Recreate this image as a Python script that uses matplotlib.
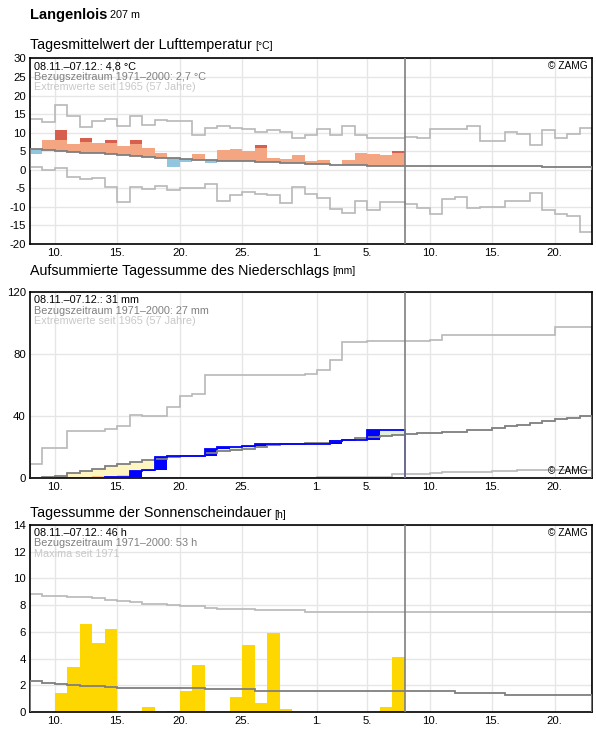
import numpy as np
import matplotlib
matplotlib.use('Agg')
import matplotlib.pyplot as plt

plt.rcParams['font.family'] = ['Liberation Sans', 'DejaVu Sans']
plt.rcParams['axes.unicode_minus'] = False

W, H = 596, 729

# day numbers counted from 1 Nov (1 Dec = 31)
obs_days = np.arange(8, 38)          # 08.11. - 07.12.
obs_edges = np.arange(8, 39)
all_edges = np.arange(8, 54)         # chart runs to 22.12.

xtick_pos = [10, 15, 20, 25, 31, 35, 40, 45, 50]
xtick_lab = ['10.', '15.', '20.', '25.', '1.', '5.', '10.', '15.', '20.']

# --- temperature [°C] ---
temp_obs = [4.2, 8.0, 10.7, 6.9, 8.5, 7.1, 8.0, 6.3, 8.0, 5.85,
            4.5, 0.8, 2.2, 4.15, 1.9, 5.3, 5.6, 5.0, 6.6, 3.3,
            2.9, 3.9, 2.35, 2.6, 1.2, 2.6, 4.5, 4.2, 4.0, 5.0]
temp_hi_lim = [8.5, 8.3, 8.0, 7.8, 7.6, 7.3, 7.1, 7.0, 6.9, 6.8,
               6.7, 6.6, 6.5, 6.4, 6.3, 6.2, 6.1, 6.0, 5.9, 5.8,
               5.7, 5.6, 5.5, 5.3, 5.2, 5.1, 5.0, 4.9, 4.8, 4.5]
temp_norm = [5.6, 5.3, 5.1, 4.8, 4.5, 4.5, 4.15, 3.9, 3.7, 3.4,
             3.3, 3.1, 2.9, 2.7, 2.6, 2.4, 2.35, 2.3, 2.1, 2.0,
             1.8, 1.7, 1.6, 1.5, 1.4, 1.4, 1.3, 1.0, 1.0, 1.0,
             0.95, 0.95, 0.95, 0.95, 0.95, 0.95, 0.95, 0.95, 0.95, 0.95,
             0.95, 0.65, 0.65, 0.65, 0.65]
temp_max = [13.8, 12.8, 17.6, 14.6, 11.6, 13.1, 13.6, 11.8, 14.5, 12.2,
            13.3, 13.1, 13.2, 9.5, 11.4, 11.9, 11.4, 10.9, 10.1, 10.6,
            10.3, 8.7, 9.5, 11.1, 9.4, 11.7, 9.5, 8.5, 8.5, 8.7,
            8.9, 8.5, 10.9, 10.9, 10.9, 11.7, 7.7, 7.7, 10.2, 9.6,
            6.8, 10.6, 8.7, 9.6, 11.4]
temp_min = [0.7, -0.1, 0.6, -2.0, -2.6, -2.2, -4.7, -8.6, -4.6, -5.3,
            -4.5, -5.5, -5.0, -4.9, -3.9, -8.4, -6.75, -5.9, -6.5, -6.75,
            -9.0, -4.7, -6.4, -7.7, -10.7, -11.7, -8.3, -10.9, -8.8, -8.8,
            -9.3, -10.4, -12.0, -8.0, -7.4, -10.4, -10.1, -10.1, -8.4, -8.4,
            -6.2, -10.9, -11.8, -12.5, -16.9]

# --- precipitation [mm] ---
prec_daily = [0.1, 0.2, 0.0, 0.1, 0.1, 0.0, 0.1, 0.2, 4.0, 0.4,
              8.7, 0.3, 0.0, 0.2, 4.5, 1.1, 0.0, 0.8, 1.3, 0.0,
              0.0, 0.0, 0.0, 0.0, 1.8, 0.8, 0.0, 6.6, 0.0, 0.0]
prec_dry = [0.0, 0.0, 0.0, 0.0, 0.0, 1.3, 1.3, 2.1, 2.6, 3.0,
            3.3, 3.6, 3.9, 4.2, 4.5, 4.9, 5.2, 5.5, 5.8, 6.1,
            6.4, 6.7, 7.0, 7.3, 7.6, 7.9, 8.2, 8.5, 8.8, 9.1]
prec_norm = [0.4, 0.8, 1.7, 3.2, 4.5, 5.8, 7.9, 9.0, 10.3, 11.6,
             12.5, 13.7, 14.2, 14.6, 16.1, 17.6, 18.3, 18.9, 20.2, 21.4,
             21.8, 22.0, 23.0, 23.0, 24.3, 24.9, 25.8, 26.5, 27.3, 27.9,
             28.6, 29.2, 29.5, 30.1, 30.1, 31.2, 31.2, 32.7, 33.8, 34.4,
             35.5, 36.6, 38.1, 39.1, 40.2]
prec_max = [9.0, 19.4, 19.4, 30.7, 30.7, 30.7, 31.5, 33.7, 40.6, 40.4,
            40.4, 46.2, 53.3, 54.6, 66.5, 66.5, 66.5, 66.5, 66.5, 66.5,
            66.5, 66.5, 67.1, 69.9, 76.1, 88.0, 88.0, 88.4, 88.4, 88.6,
            88.6, 88.6, 89.0, 92.5, 92.5, 92.5, 92.5, 92.5, 92.5, 92.5,
            92.5, 92.5, 97.4, 97.4, 97.4]
prec_min = [0.0, 0.0, 0.0, 0.0, 0.0, 0.0, 0.0, 0.0, 0.0, 0.0,
            0.0, 0.0, 0.0, 0.0, 0.0, 0.0, 0.0, 0.0, 0.0, 0.0,
            0.0, 0.0, 0.0, 0.6, 0.6, 0.6, 0.6, 0.6, 0.6, 3.0,
            3.0, 3.0, 3.4, 3.8, 3.8, 4.2, 4.2, 4.7, 4.7, 5.1,
            5.1, 5.1, 5.1, 5.1, 5.1]

# --- sunshine [h] ---
sun_obs = [0, 0, 1.4, 3.35, 6.6, 5.2, 6.2, 0, 0, 0.35,
           0, 0.1, 1.6, 3.5, 0, 0, 1.1, 5.0, 0.7, 5.9,
           0.2, 0, 0, 0, 0, 0, 0, 0, 0.4, 4.1]
sun_norm = [2.3, 2.2, 2.1, 2.0, 1.95, 1.95, 1.9, 1.8, 1.8, 1.8,
            1.8, 1.8, 1.8, 1.8, 1.7, 1.7, 1.7, 1.7, 1.6, 1.6,
            1.6, 1.6, 1.6, 1.6, 1.6, 1.6, 1.6, 1.6, 1.6, 1.6,
            1.6, 1.6, 1.6, 1.6, 1.4, 1.4, 1.4, 1.4, 1.3, 1.3,
            1.3, 1.3, 1.3, 1.3, 1.3]
sun_max = [8.8, 8.65, 8.65, 8.6, 8.6, 8.5, 8.4, 8.3, 8.2, 8.1,
           8.1, 8.0, 7.9, 7.9, 7.75, 7.7, 7.7, 7.7, 7.6, 7.6,
           7.6, 7.6, 7.5, 7.5, 7.5, 7.5, 7.5, 7.5, 7.5, 7.5,
           7.5, 7.5, 7.5, 7.5, 7.5, 7.5, 7.5, 7.5, 7.5, 7.5,
           7.5, 7.5, 7.5, 7.5, 7.5]

NORM_C = '#7f7f7f'
EXT_C = '#b8b8b8'

fig = plt.figure(figsize=(W / 100, H / 100), dpi=100)
left, width = 30 / W, 562 / W
ax1 = fig.add_axes([left, 1 - 244 / H, width, 185.5 / H])
ax2 = fig.add_axes([left, 1 - 478.3 / H, width, 186.3 / H])
ax3 = fig.add_axes([left, 1 - 712 / H, width, 187 / H])


def setup(ax, ylim, yticks):
    ax.set_xlim(8, 53)
    ax.set_ylim(*ylim)
    ax.set_xticks(xtick_pos, xtick_lab)
    ax.set_yticks(yticks)
    ax.grid(True, color='#e6e6e6', lw=1)
    ax.set_axisbelow(True)
    ax.tick_params(length=0, labelsize=8.2, pad=3)
    for s in ax.spines.values():
        s.set_linewidth(1.2)
    ax.axvline(38, color=NORM_C, lw=1.2, zorder=4)


def info(ax, lines):
    for i, (t, c) in enumerate(zip(lines, ['black', '#808080', '#c8c8c8'])):
        ax.annotate(t, xy=(0, 1), xycoords='axes fraction', xytext=(4, -3 - 10.5 * i),
                    textcoords='offset pixels', ha='left', va='top', fontsize=7.8, color=c)


def zamg(ax, top=True):
    if top:
        ax.annotate('© ZAMG', xy=(1, 1), xycoords='axes fraction', xytext=(-4, -3),
                    textcoords='offset pixels', ha='right', va='top', fontsize=7.3)
    else:
        ax.annotate('© ZAMG', xy=(1, 0), xycoords='axes fraction', xytext=(-4, 2),
                    textcoords='offset pixels', ha='right', va='bottom', fontsize=7.3)


def title(y_px, text, unit, size, usize, weight='normal'):
    t = fig.text(30 / W, 1 - y_px / H, text, fontsize=size, fontweight=weight, va='baseline')
    bb = t.get_window_extent(fig.canvas.get_renderer())
    fig.text((bb.x1 + 3) / W, 1 - y_px / H, unit, fontsize=usize, va='baseline')


# temperature panel
setup(ax1, (-20, 30), np.arange(-20, 31, 5))
t_obs = np.array(temp_obs)
t_norm = np.array(temp_norm[:30])
t_lim = np.array(temp_hi_lim)
warm = t_obs > t_norm
ax1.bar(obs_days[warm], (np.minimum(t_obs, t_lim) - t_norm)[warm], bottom=t_norm[warm],
        width=1, align='edge', color='#f4a582', lw=0)
hot = t_obs > t_lim
ax1.bar(obs_days[hot], (t_obs - t_lim)[hot], bottom=t_lim[hot],
        width=1, align='edge', color='#d6604d', lw=0)
cold = t_obs < t_norm
ax1.bar(obs_days[cold], (t_norm - t_obs)[cold], bottom=t_obs[cold],
        width=1, align='edge', color='#92c5de', lw=0)
ax1.stairs(temp_max, all_edges, color=EXT_C, lw=1.2)
ax1.stairs(temp_min, all_edges, color=EXT_C, lw=1.2)
ax1.stairs(temp_norm, all_edges, color=NORM_C, lw=1.3, zorder=3)
info(ax1, ['08.11.–07.12.: 4,8 °C', 'Bezugszeitraum 1971–2000: 2,7 °C',
           'Extremwerte seit 1965 (57 Jahre)'])
zamg(ax1)

# precipitation panel
setup(ax2, (0, 120), [0, 40, 80, 120])
daily = np.array(prec_daily)
cum = np.cumsum(daily)
prev = cum - daily
p_norm = np.array(prec_norm[:30])
p_dry = np.array(prec_dry)
below = cum < p_norm
ax2.bar(obs_days[below], (p_norm - cum)[below], bottom=cum[below],
        width=1, align='edge', color='#fff5c0', lw=0)
dry = cum < p_dry
ax2.bar(obs_days[dry], (np.minimum(p_dry, p_norm) - cum)[dry], bottom=cum[dry],
        width=1, align='edge', color='#ffca80', lw=0)
above = cum > p_norm
ax2.bar(obs_days[above], (cum - p_norm)[above], bottom=p_norm[above],
        width=1, align='edge', color='#e2f2da', lw=0)
wet = daily > 0
ax2.bar(obs_days[wet], daily[wet], bottom=prev[wet],
        width=1, align='edge', color='#0000ff', lw=0, zorder=3)
ax2.stairs(prec_max, all_edges, color=EXT_C, lw=1.2)
ax2.stairs(prec_min, all_edges, color=EXT_C, lw=1.2)
ax2.stairs(prec_norm, all_edges, color=NORM_C, lw=1.3, zorder=3)
ax2.stairs(cum, obs_edges, color='#0000ff', lw=1.3, zorder=3)
info(ax2, ['08.11.–07.12.: 31 mm', 'Bezugszeitraum 1971–2000: 27 mm',
           'Extremwerte seit 1965 (57 Jahre)'])
zamg(ax2, top=False)

# sunshine panel
setup(ax3, (0, 14), np.arange(0, 15, 2))
ax3.bar(obs_days, sun_obs, width=1, align='edge', color='#ffd700', lw=0)
ax3.stairs(sun_max, all_edges, color=EXT_C, lw=1.2)
ax3.stairs(sun_norm, all_edges, color=NORM_C, lw=1.3, zorder=3)
info(ax3, ['08.11.–07.12.: 46 h', 'Bezugszeitraum 1971–2000: 53 h', 'Maxima seit 1971'])
zamg(ax3)

title(18.5, 'Langenlois', '207 m', 10.5, 7.8, weight='bold')
title(49.3, 'Tagesmittelwert der Lufttemperatur', '[°C]', 10.3, 7.5)
title(274.5, 'Aufsummierte Tagessumme des Niederschlags', '[mm]', 10.3, 7.5)
title(517.5, 'Tagessumme der Sonnenscheindauer', '[h]', 10.3, 7.5)

fig.savefig('out.png', dpi=100)
